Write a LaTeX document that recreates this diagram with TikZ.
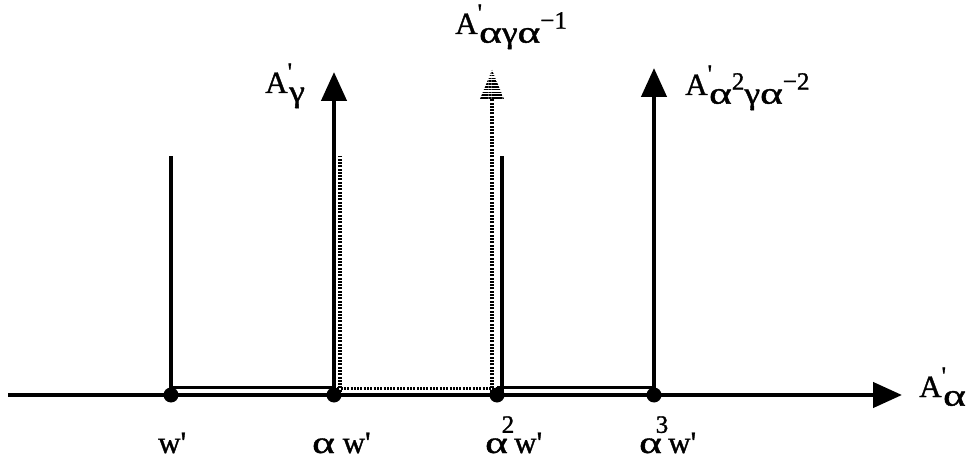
\documentclass[tikz,border=0pt]{standalone}
\usepackage{fontspec}
\setmainfont{Liberation Serif}
\newfontfamily\lblfont{Liberation Serif}[FakeBold=1.2]
\usetikzlibrary{arrows.meta, positioning, patterns.meta}

\newcommand{\subsz}{\fontsize{25}{27}\selectfont}
\newcommand{\al}{\scalebox{1.4}[1]{α}}
\newcommand{\ga}{\scalebox{1.15}[1]{γ}}
\newcommand{\Ap}[1]{A\rlap{\raisebox{.42em}{\subsz\textquotesingle}}\kern.05em\raisebox{-.28em}{#1}}
\newcommand{\up}[1]{\raisebox{.45em}{\subsz #1}}

\tikzset{
  dot/.style={circle, fill, inner sep=0pt, minimum size=15pt},
  tip/.style={-{Triangle[length=29pt, width=25pt]}},
  dotline/.style={line width=3.6pt, dash pattern=on 2pt off 1.3pt},
  stripes/.style={pattern={Lines[angle=0, distance=2.8pt, line width=1.6pt]}},
  lbl/.style={font=\lblfont\fontsize{31}{34}\selectfont, inner sep=0pt, anchor=base west},
}

\begin{document}
\begin{tikzpicture}[x=1pt, y=-1pt, line width=4.4pt]
  \useasboundingbox (0,0) rectangle (974,462);
  % points on the axis
  \node[dot] (w0) at (171,395) {};
  \node[dot] (w1) at (334,395) {};
  \node[dot] (w2) at (497,395) {};
  \node[dot] (w3) at (654,395) {};
  \coordinate (start) at (8,395);
  \coordinate (end) at (902,395);
  % upper ends of the lines
  \coordinate (h0) at (171,156);
  \coordinate (t1) at (334,72);
  \coordinate (h1) at (340,156);
  \coordinate (t2) at (492,70);
  \coordinate (b2) at (492,99);
  \coordinate (h2) at (502,156);
  \coordinate (t3) at (654,68);

  \draw[tip] (start) -- (end);
  \draw (w0.center) -- (h0);
  \draw[tip] (w1.center) -- (t1);
  \draw[dotline] (w1.center -| h1) -- (h1);
  \draw[dotline] (w2.center -| b2) -- (b2);
  \fill[stripes] (t2) -- ([xshift=-12pt]b2) -- ([xshift=12pt]b2) -- cycle;
  \draw (w2.center -| h2) -- (h2);
  \draw[tip] (w3.center) -- (t3);

  % upper edge of the band
  \draw[line width=3pt] ([yshift=8pt]w0.center) -- ([yshift=8pt]w1.center);
  \draw[dotline, line width=3pt] ([yshift=7pt]w1.center) -- ([yshift=7pt]w2.center);
  \draw[line width=3pt] ([yshift=8pt]w2.center) -- ([yshift=8pt]w3.center);

  % labels
  \node[lbl] (lg) at (263,93) {\Ap{\ga}};
  \node[lbl] (lag) at (453,34) {\Ap{\al\ga\al\up{−1}}};
  \node[lbl] (laag) at (683,95) {\Ap{\al\up{2}\ga\al\up{−2}}};
  \node[lbl] (la) at (917,397) {\Ap{\al}};
  \node[lbl] (l0) at (156,453) {w\textquotesingle};
  \node[lbl] (l1) at (310,453) {\al\ w\textquotesingle};
  \node[lbl] (l2) at (483,453) {\al\kern-.2em\up{\raisebox{.25em}{2}}w\textquotesingle};
  \node[lbl] (l3) at (637,453) {\al\kern-.2em\up{\raisebox{.25em}{3}}w\textquotesingle};
\end{tikzpicture}
\end{document}
